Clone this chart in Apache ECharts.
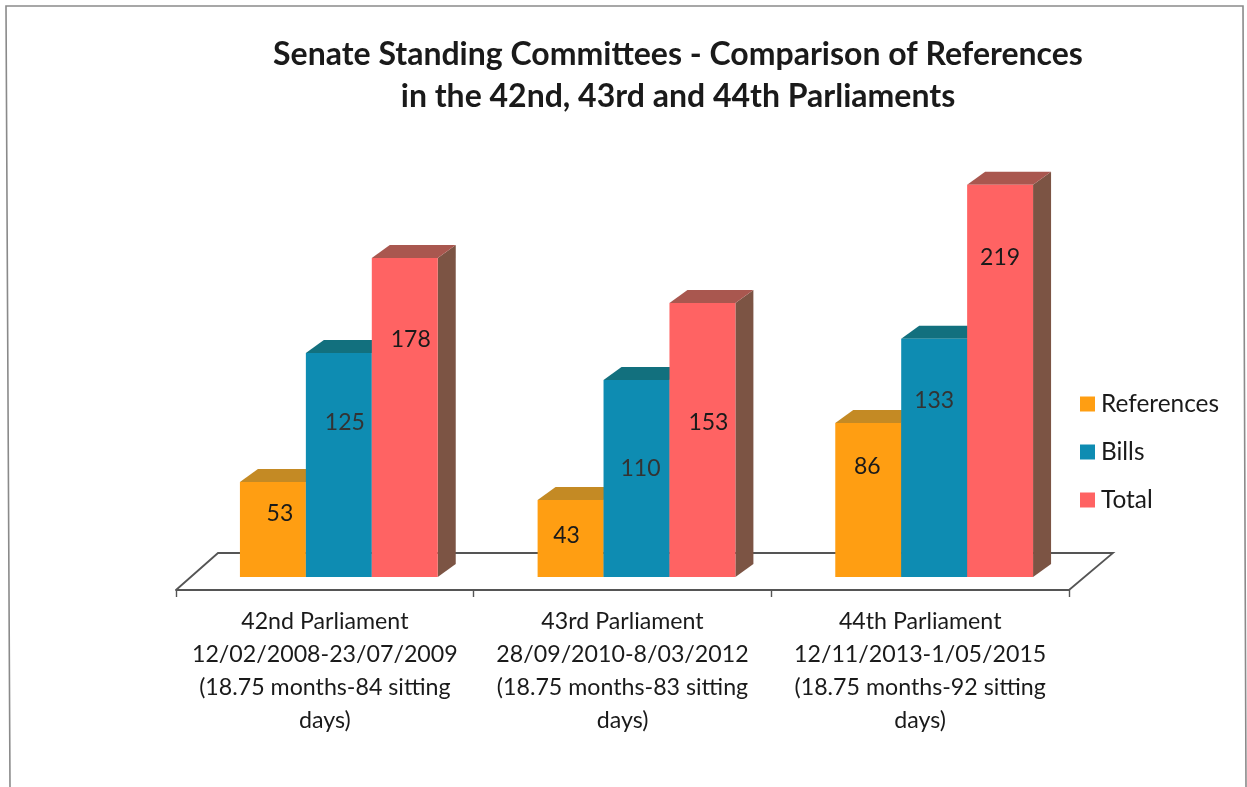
<!DOCTYPE html>
<html>
<head>
<meta charset="utf-8">
<style>html,body{margin:0;padding:0;background:#fff}#c{width:1247px;height:787px}</style>
<script src="https://cdn.jsdelivr.net/npm/echarts@6/dist/echarts.min.js"></script>
</head>
<body>
<div id="c"></div>
<script>
const titleLines = ['Senate Standing Committees - Comparison of References', 'in the 42nd, 43rd and 44th Parliaments'];
const categories = [
  '42nd Parliament\n12/02/2008-23/07/2009\n(18.75 months-84 sitting\ndays)',
  '43rd Parliament\n28/09/2010-8/03/2012\n(18.75 months-83 sitting\ndays)',
  '44th Parliament\n12/11/2013-1/05/2015\n(18.75 months-92 sitting\ndays)'
];
const seriesNames = ['References', 'Bills', 'Total'];
const references = [53, 43, 86];
const bills = [125, 110, 133];
const total = [178, 153, 219];

// appearance, kept apart from the data
const frontColors = ['#FF9E12', '#0E8CB2', '#FF6363'];
const topColors = ['#C48A24', '#12707E', '#A9574F'];
const sideColors = ['#9A6A20', '#0E5A66', '#7C5444'];
const labelNudges = [
  [[7, -16], [-4, -3], [-1, -33]],
  [[6, -42], [4, -10], [0, -57]],
  [[6, -78], [6, -17], [0, -123]]
];
const depthX = 18, depthY = 13, barShift = 14, barBandShare = 0.2215;

function barRenderer(s) {
  return function (params, api) {
    const i = api.value(0), v = api.value(1);
    const band = api.size([1, 0])[0];
    const w = band * barBandShare;
    const c = api.coord([i, v]);
    const base = api.coord([i, 0]);
    const x0 = c[0] + barShift + (s - 1.5) * w;
    const x1 = x0 + w;
    const yt = c[1], yb = base[1];
    const children = [];
    if (s === 0 && params.dataIndex === 0) {
      const g = params.coordSys;
      const fy = g.y + g.height + depthY;
      children.push({
        type: 'polyline',
        shape: { points: [[g.x, fy], [g.x + 42, fy - 37], [g.x + g.width + 44, fy - 37], [g.x + g.width, fy]] },
        style: { fill: null, stroke: '#555', lineWidth: 1.8 }
      });
    }
    children.push({
      type: 'polygon',
      shape: { points: [[x1, yt], [x1 + depthX, yt - depthY], [x1 + depthX, yb - depthY], [x1, yb]] },
      style: { fill: sideColors[s] }
    });
    children.push({
      type: 'polygon',
      shape: { points: [[x0, yt], [x0 + depthX, yt - depthY], [x1 + depthX, yt - depthY], [x1, yt]] },
      style: { fill: topColors[s] }
    });
    children.push({
      type: 'rect',
      shape: { x: x0, y: yt, width: w, height: yb - yt },
      style: { fill: frontColors[s] }
    });
    const n = labelNudges[s][i];
    children.push({
      type: 'text',
      style: {
        x: (x0 + x1) / 2 + n[0], y: (yt + yb) / 2 + n[1],
        text: String(v), align: 'center', verticalAlign: 'middle',
        fill: s === 1 ? '#333' : '#1a1a1a',
        font: '23px Lato'
      }
    });
    return { type: 'group', children };
  };
}

const allValues = [references, bills, total];
const chart = echarts.init(document.getElementById('c'), null, { renderer: 'canvas' });
chart.setOption({
  animation: false,
  backgroundColor: '#fff',
  title: {
    text: titleLines.join('\n'),
    left: 673, top: 29, textAlign: 'center',
    textStyle: { fontFamily: 'Lato', fontWeight: 'bold', fontSize: 32, lineHeight: 42, color: '#1a1a1a' }
  },
  legend: {
    orient: 'vertical', left: 1080, top: 392, padding: 0,
    itemWidth: 15, itemHeight: 15, itemGap: 24,
    icon: 'rect',
    data: seriesNames,
    textStyle: { fontFamily: 'Lato', fontSize: 24.4, color: '#1a1a1a', padding: [0, 0, 0, 1] }
  },
  grid: { left: 176, right: 178, top: 147, bottom: 210 },
  xAxis: {
    type: 'category', data: categories, offset: 13,
    axisLine: { onZero: false, lineStyle: { color: '#555', width: 1.8 } },
    axisTick: { show: true, length: 7, alignWithLabel: false, lineStyle: { color: '#555', width: 1.4 } },
    axisLabel: { interval: 0, margin: 15, hideOverlap: false, fontFamily: 'Lato', fontSize: 23.2, lineHeight: 33, color: '#1a1a1a' }
  },
  yAxis: { type: 'value', min: 0, max: 240, show: false },
  graphic: [{
    type: 'polyline', silent: true,
    shape: { points: [[10, 787], [6, 6], [1243, 6], [1246, 787]] },
    style: { fill: null, stroke: '#8a8a8a', lineWidth: 1.6 }
  }],
  series: seriesNames.map((name, s) => ({
    type: 'custom', name,
    itemStyle: { color: frontColors[s] },
    clip: false,
    renderItem: barRenderer(s),
    encode: { x: 0, y: 1 },
    data: allValues[s].map((v, i) => [i, v])
  }))
});
</script>
</body>
</html>
